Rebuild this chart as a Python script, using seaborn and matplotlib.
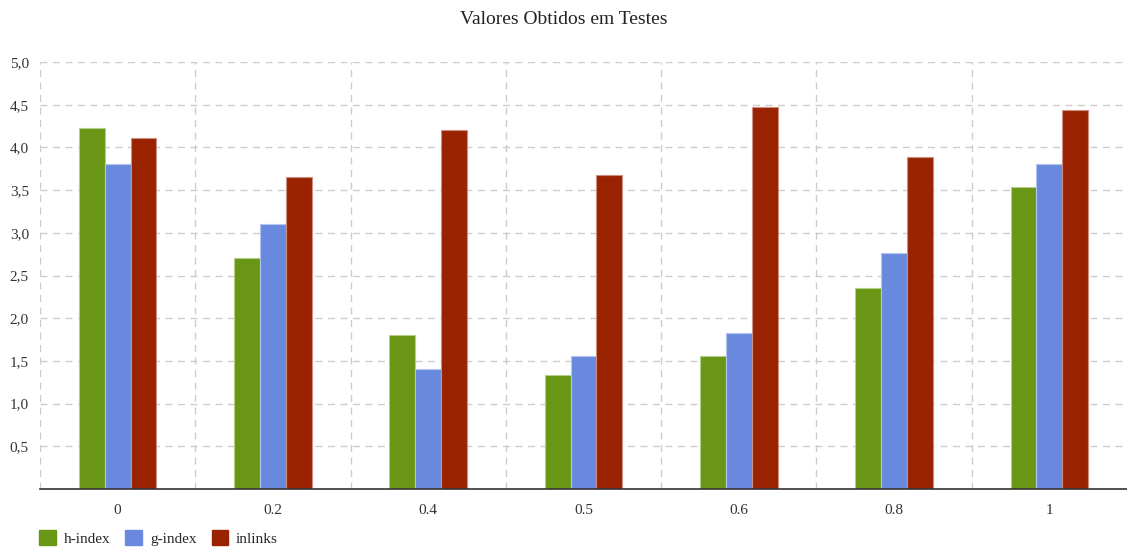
import matplotlib
matplotlib.use("Agg")
import matplotlib.pyplot as plt
import seaborn as sns
import pandas as pd
from matplotlib.patches import Patch

categories = ["0", "0.2", "0.4", "0.5", "0.6", "0.8", "1"]
h_index = [4.23, 2.70, 1.80, 1.34, 1.56, 2.35, 3.54]
g_index = [3.80, 3.10, 1.40, 1.56, 1.83, 2.76, 3.80]
inlinks = [4.11, 3.65, 4.20, 3.68, 4.47, 3.89, 4.44]
series_names = ["h-index", "g-index", "inlinks"]
colors = ["#699614", "#6889dd", "#992200"]
edge_colors = ["#b5cf8a", "#b3c4ee", "#cc9080"]
y_ticks = [0.5, 1.0, 1.5, 2.0, 2.5, 3.0, 3.5, 4.0, 4.5, 5.0]
title = "Valores Obtidos em Testes"

rows = []
for name, vals in zip(series_names, [h_index, g_index, inlinks]):
    for c, v in zip(categories, vals):
        rows.append({"cat": c, "serie": name, "valor": v})
df = pd.DataFrame(rows)

sns.set_style("white")
plt.rcParams["font.family"] = ["Liberation Serif", "DejaVu Serif"]

fig = plt.figure(figsize=(11.27, 5.5), dpi=100)
ax = fig.add_axes([40/1127, 1-489/550, 1-40/1127, (489-62)/550])

sns.barplot(data=df, x="cat", y="valor", hue="serie", order=categories,
            hue_order=series_names, palette=colors, width=0.5, ax=ax,
            saturation=1, legend=False, errorbar=None)

for i, cont in enumerate(ax.containers):
    for p in cont:
        p.set_edgecolor(edge_colors[i])
        p.set_linewidth(0.8)

ax.set_xlim(-0.5, len(categories) - 0.5)
ax.set_ylim(0, 5.0)
ax.set_yticks(y_ticks)
ax.set_yticklabels([f"{t:.1f}".replace(".", ",") for t in y_ticks])
ax.set_xlabel("")
ax.set_ylabel("")

# gridlines
for t in y_ticks:
    ax.axhline(t, color="#cccccc", lw=1, ls=(0, (5, 4)), zorder=0)
for b in range(len(categories)):
    ax.axvline(b - 0.5, color="#cccccc", lw=1, ls=(0, (5, 4)), zorder=0)

for s in ["top", "right", "left"]:
    ax.spines[s].set_visible(False)
ax.spines["bottom"].set_color("#333333")
ax.spines["bottom"].set_linewidth(1.2)

ax.tick_params(axis="x", length=5, color="#cccccc", labelsize=11, labelcolor="#333333", pad=6)
ax.tick_params(axis="y", length=6, color="#cccccc", labelsize=11, labelcolor="#333333", pad=2)

fig.text(0.5, 1-19/550, title, ha="center", va="center", fontsize=14, color="#222222")

handles = [Patch(facecolor=c, edgecolor=c) for c in colors]
fig.legend(handles, series_names, loc="center left", bbox_to_anchor=(33/1127, 1-538/550),
           ncol=3, frameon=False, fontsize=11, handlelength=1.1, handleheight=1.1,
           handletextpad=0.5, columnspacing=1.0, borderaxespad=0)

fig.savefig("out.png", dpi=100)
